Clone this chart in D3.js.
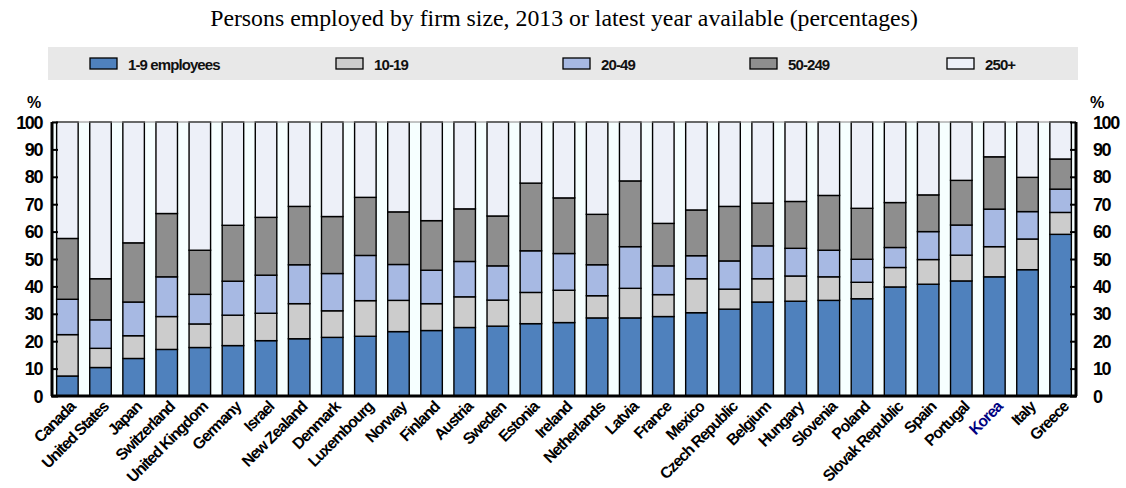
<!DOCTYPE html>
<html><head><meta charset="utf-8">
<script src="https://cdn.jsdelivr.net/npm/d3@7"></script>
<style>
body{margin:0;background:#fff;}
svg text{font-family:"Liberation Sans",Arial,sans-serif;}
</style></head>
<body><svg id="c" width="1126" height="488"></svg>
<script>
const countries = ["Canada","United States","Japan","Switzerland","United Kingdom","Germany","Israel","New Zealand","Denmark","Luxembourg","Norway","Finland","Austria","Sweden","Estonia","Ireland","Netherlands","Latvia","France","Mexico","Czech Republic","Belgium","Hungary","Slovenia","Poland","Slovak Republic","Spain","Portugal","Korea","Italy","Greece"];
const seriesNames = ["1-9 employees","10-19","20-49","50-249","250+"];
const s1_9    = [7.3,10.4,13.7,17.0,17.7,18.4,20.2,20.9,21.4,21.8,23.5,23.9,25.0,25.5,26.4,26.8,28.5,28.5,29.0,30.4,31.7,34.3,34.6,34.9,35.5,39.8,40.8,42.0,43.5,46.1,59.0];
const s10_19  = [15.1,7.0,8.3,12.0,8.6,11.1,10.0,12.8,9.7,13.0,11.4,9.8,11.2,9.5,11.4,11.8,8.1,10.8,8.0,12.4,7.3,8.5,9.2,8.6,6.0,7.1,9.0,9.4,11.0,11.2,8.0];
const s20_49  = [12.9,10.4,12.3,14.5,10.8,12.4,13.9,14.2,13.6,16.5,13.1,12.2,12.9,12.5,15.2,13.4,11.3,15.2,10.5,8.4,10.3,12.0,10.1,9.7,8.4,7.3,10.2,11.0,13.7,10.0,8.5];
const s50_249 = [22.2,15.0,21.6,23.1,16.1,20.4,21.1,21.3,20.8,21.2,19.2,18.1,19.2,18.2,24.7,20.3,18.4,24.0,15.5,16.7,19.9,15.6,17.1,20.0,18.6,16.4,13.4,16.3,19.1,12.5,11.0];
const s250    = [42.5,57.2,44.1,33.4,46.8,37.7,34.8,30.8,34.5,27.5,32.8,36.0,31.7,34.3,22.3,27.7,33.7,21.5,37.0,32.1,30.8,29.6,29.0,26.8,31.5,29.4,26.6,21.3,12.7,20.2,13.5];
const yTicks = [0,10,20,30,40,50,60,70,80,90,100];
const titleText = "Persons employed by firm size, 2013 or latest year available (percentages)";
const highlight = "Korea";

const colors = ["#4F81BD","#CCCCCC","#A7B9E3","#8E8E8E","#EDF0F8"];
const allSeries = [s1_9,s10_19,s20_49,s50_249,s250];

const svg = d3.select("#c");
const L = 52, R = 1076, T = 122, B = 396;

const rows = countries.map((c,i)=>{const o={country:c}; seriesNames.forEach((s,j)=>o[s]=allSeries[j][i]); return o;});
const stack = d3.stack().keys(seriesNames)(rows);

const x = d3.scaleBand().domain(countries).range([L,R]).paddingInner(0.35).paddingOuter(0.14);
const y = d3.scaleLinear().domain([0,100]).range([B,T]);

// title
svg.append("text").attr("x",564).attr("y",26).attr("text-anchor","middle")
  .style("font-family","'Liberation Serif','Times New Roman',serif").style("font-size","23.8px").text(titleText);

// legend
svg.append("rect").attr("x",48).attr("y",47).attr("width",1030).attr("height",33).attr("fill","#E8E8E8");
const legX = [90,336,563,750,947];
seriesNames.forEach((s,i)=>{
  svg.append("rect").attr("x",legX[i]).attr("y",58).attr("width",27).attr("height",11)
    .attr("fill",colors[i]).attr("stroke","#000").attr("stroke-width",1.3);
  svg.append("text").attr("x",legX[i]+38).attr("y",69.5).style("font-size","15px")
    .style("letter-spacing","-0.9px").style("font-weight","bold").attr("fill","#111").text(s);
});

// plot bg
svg.append("rect").attr("x",L).attr("y",T).attr("width",R-L).attr("height",B-T).attr("fill","#F6FFFF");

// bars
stack.forEach((layer,j)=>{
  svg.append("g").selectAll("rect").data(layer).join("rect")
    .attr("x",d=>x(d.data.country)).attr("width",x.bandwidth())
    .attr("y",d=>y(d[1])).attr("height",d=>y(d[0])-y(d[1]))
    .attr("fill",colors[j]).attr("stroke","#000").attr("stroke-width",1.4);
});

// frame
svg.append("line").attr("x1",L).attr("x2",R).attr("y1",T).attr("y2",T).attr("stroke","#888").attr("stroke-width",1);
svg.append("line").attr("x1",L).attr("x2",L).attr("y1",T).attr("y2",B).attr("stroke","#000").attr("stroke-width",3);
svg.append("line").attr("x1",R).attr("x2",R).attr("y1",T).attr("y2",B).attr("stroke","#000").attr("stroke-width",3);
svg.append("line").attr("x1",L-1).attr("x2",R+1).attr("y1",B).attr("y2",B).attr("stroke","#000").attr("stroke-width",3);

// y axes
const yl = svg.append("g").attr("transform",`translate(${L},0)`)
  .call(d3.axisRight(y).tickValues(yTicks).tickSize(6).tickFormat(""));
yl.select(".domain").remove();
yl.selectAll("line").attr("stroke","#000").attr("stroke-width",2);
const yr = svg.append("g").attr("transform",`translate(${R},0)`)
  .call(d3.axisLeft(y).tickValues(yTicks).tickSize(6).tickFormat(""));
yr.select(".domain").remove();
yr.selectAll("line").attr("stroke","#000").attr("stroke-width",2);

const yLab = svg.append("g");
yTicks.forEach(t=>{
  yLab.append("text").attr("x",42).attr("y",y(t)+6.5).attr("text-anchor","end")
    .style("font-size","18px").style("letter-spacing","-1.4px").style("font-weight","bold").text(t);
  yLab.append("text").attr("x",1093).attr("y",y(t)+6.5).attr("text-anchor","start")
    .style("font-size","18px").style("letter-spacing","-1.4px").style("font-weight","bold").text(t);
});
svg.append("text").attr("x",27).attr("y",108).style("font-size","16px").style("font-weight","bold").text("%");
svg.append("text").attr("x",1090).attr("y",108).style("font-size","16px").style("font-weight","bold").text("%");

// x labels
svg.append("g").selectAll("text").data(countries).join("text")
  .attr("transform",d=>`translate(${x(d)+x.bandwidth()/2+5},${B+8}) rotate(-45)`)
  .attr("text-anchor","end").attr("dy","0.35em")
  .style("font-size","15.8px").style("letter-spacing","-1.1px")
  .style("font-weight","bold")
  .attr("fill",d=>d===highlight?"#00007F":"#000").text(d=>d);
</script></body></html>
